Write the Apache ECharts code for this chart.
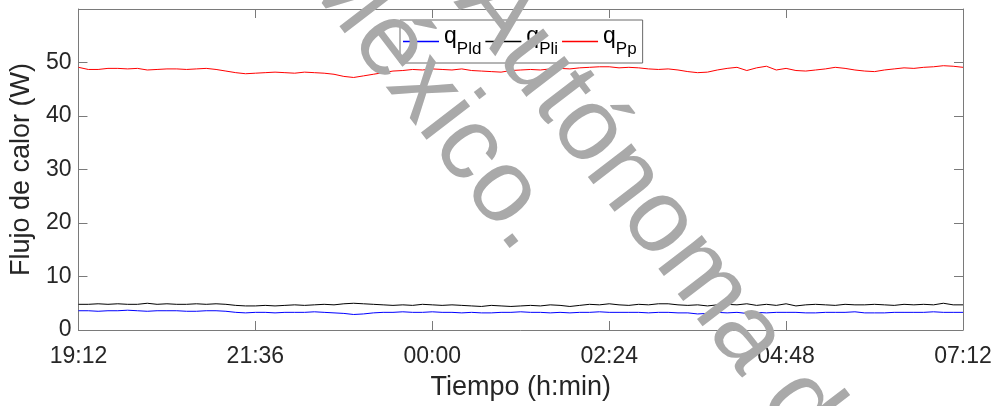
<!DOCTYPE html>
<html>
<head>
<meta charset="utf-8">
<script src="https://cdn.jsdelivr.net/npm/echarts@6/dist/echarts.min.js"></script>
<style>
  html, body { margin: 0; padding: 0; background: #fff; }
  #chart { width: 995px; height: 406px; }
</style>
</head>
<body>
<div id="chart"></div>
<script>
// Sample times, minutes elapsed since 19:12
const timeMin = [
  0, 8, 16, 24, 32, 40, 48, 56, 64, 72,
  80, 88, 96, 104, 112, 120, 128, 136, 144, 152,
  160, 168, 176, 184, 192, 200, 208, 216, 224, 232,
  240, 248, 256, 264, 272, 280, 288, 296, 304, 312,
  320, 328, 336, 344, 352, 360, 368, 376, 384, 392,
  400, 408, 416, 424, 432, 440, 448, 456, 464, 472,
  480, 488, 496, 504, 512, 520, 528, 536, 544, 552,
  560, 568, 576, 584, 592, 600, 608, 616, 624, 632,
  640, 648, 656, 664, 672, 680, 688, 696, 704, 712,
  720
];

// Heat flow q_Pld (W)
const qPld = [
  3.6, 3.6, 3.5, 3.6, 3.6, 3.7, 3.6, 3.5, 3.6, 3.6,
  3.6, 3.5, 3.5, 3.6, 3.6, 3.5, 3.3, 3.2, 3.3, 3.3,
  3.2, 3.3, 3.3, 3.3, 3.4, 3.3, 3.2, 3.1, 2.9, 3.0,
  3.2, 3.3, 3.3, 3.4, 3.3, 3.3, 3.4, 3.3, 3.3, 3.2,
  3.3, 3.2, 3.2, 3.3, 3.3, 3.4, 3.3, 3.3, 3.2, 3.3,
  3.2, 3.3, 3.3, 3.4, 3.3, 3.3, 3.3, 3.3, 3.2, 3.3,
  3.3, 3.2, 3.2, 3.0, 3.1, 3.3, 3.2, 3.3, 3.1, 3.3,
  3.2, 3.3, 3.3, 3.3, 3.2, 3.2, 3.3, 3.3, 3.3, 3.4,
  3.2, 3.2, 3.2, 3.3, 3.3, 3.3, 3.3, 3.4, 3.3, 3.3,
  3.3
];

// Heat flow q_Pli (W)
const qPli = [
  4.8, 4.8, 4.9, 4.8, 4.9, 4.8, 4.8, 5.0, 4.8, 4.9,
  4.8, 4.8, 4.9, 4.8, 4.9, 4.8, 4.6, 4.5, 4.5, 4.6,
  4.5, 4.6, 4.7, 4.6, 4.7, 4.8, 4.7, 4.9, 5.0, 4.9,
  4.8, 4.7, 4.6, 4.7, 4.6, 4.8, 4.7, 4.6, 4.7, 4.6,
  4.5, 4.4, 4.6, 4.5, 4.4, 4.5, 4.6, 4.5, 4.7, 4.6,
  4.4, 4.6, 4.8, 4.7, 4.9, 4.7, 4.6, 4.8, 4.7, 4.9,
  4.9, 4.7, 4.6, 4.7, 4.5, 4.7, 4.8, 4.7, 4.9, 4.6,
  4.8, 4.6, 4.9, 4.5, 4.7, 4.8, 4.7, 4.6, 4.8, 4.7,
  4.7, 4.8, 4.7, 4.6, 4.8, 4.7, 4.8, 4.7, 5.0, 4.7,
  4.7
];

// Heat flow q_Pp (W)
const qPp = [
  49.1, 48.7, 48.7, 48.9, 48.9, 48.8, 48.9, 48.6, 48.7, 48.8,
  48.8, 48.7, 48.8, 48.9, 48.7, 48.4, 48.1, 47.9, 48.0, 48.1,
  48.2, 48.1, 48.0, 48.2, 48.1, 48.0, 47.8, 47.4, 47.2, 47.5,
  47.8, 48.1, 48.4, 48.5, 48.7, 48.6, 48.8, 48.7, 48.6, 48.8,
  48.5, 48.4, 48.3, 48.2, 48.5, 48.6, 48.7, 48.6, 48.8, 48.9,
  48.8, 49.0, 49.1, 49.2, 49.2, 49.0, 49.1, 49.0, 48.8, 48.7,
  48.8, 48.6, 48.3, 48.1, 48.2, 48.6, 48.9, 49.1, 48.5, 49.0,
  49.3, 48.6, 48.9, 48.5, 48.4, 48.6, 48.8, 49.1, 48.9, 48.6,
  48.4, 48.3, 48.6, 48.8, 49.0, 48.9, 49.1, 49.2, 49.4, 49.3,
  49.1
];

// Clock labels for the x ticks (every 144 min)
const timeTicks = ['19:12', '21:36', '00:00', '02:24', '04:48', '07:12'];
const seriesNames = ['q_Pld', 'q_Pli', 'q_Pp'];
const seriesColors = ['#0000ff', '#000000', '#ff0000'];

const FONT = '"Liberation Sans", Arial, Helvetica, sans-serif';
const AXIS_GRAY = '#7a7a7a';
const TEXT = '#262626';

function pairs(values) {
  return values.map((v, i) => [timeMin[i], v]);
}

const chart = echarts.init(document.getElementById('chart'), null, { renderer: 'canvas' });

// Shared look of the four box edges: thin gray line, ticks pointing inwards
function boxAxis(extra) {
  return Object.assign({
    axisLine: { show: true, onZero: false, lineStyle: { color: AXIS_GRAY, width: 1 } },
    axisTick: { show: true, inside: true, length: 9, lineStyle: { color: AXIS_GRAY, width: 1 } },
    splitLine: { show: false }
  }, extra);
}

const option = {
  backgroundColor: '#ffffff',
  animation: false,
  textStyle: { fontFamily: FONT },
  grid: { left: 78, right: 32, top: 9, bottom: 73 },
  legend: {
    left: 400,
    top: 20,
    orient: 'horizontal',
    icon: 'rect',
    itemWidth: 36,
    itemHeight: 1.5,
    itemGap: 4,
    padding: [5, 6, 5, 3],
    borderColor: '#6a6a6a',
    borderWidth: 1,
    backgroundColor: '#ffffff',
    data: seriesNames,
    formatter: name => '{q|q}{s|' + name.split('_')[1] + '}',
    textStyle: {
      color: '#000',
      fontFamily: FONT,
      rich: {
        q: { fontSize: 23, lineHeight: 22, padding: [0, 0, 10, 0], fontFamily: FONT, color: '#000' },
        s: { fontSize: 17, lineHeight: 16, padding: [16, 0, 0, 0], fontFamily: FONT, color: '#000' }
      }
    }
  },
  xAxis: [
    boxAxis({
      type: 'value',
      position: 'bottom',
      min: 0,
      max: 720,
      interval: 144,
      name: 'Tiempo (h:min)',
      nameLocation: 'middle',
      nameGap: 44,
      nameTextStyle: { fontSize: 27, color: TEXT, fontFamily: FONT },
      axisLabel: {
        show: true,
        margin: 15,
        fontSize: 23,
        color: TEXT,
        fontFamily: FONT,
        formatter: v => timeTicks[Math.round(v / 144)] || ''
      }
    }),
    boxAxis({
      type: 'value',
      position: 'top',
      min: 0,
      max: 720,
      interval: 144,
      axisLabel: { show: false }
    })
  ],
  yAxis: [
    boxAxis({
      type: 'value',
      position: 'left',
      min: 0,
      max: 60,
      interval: 10,
      name: 'Flujo de calor (W)',
      nameLocation: 'middle',
      nameGap: 43,
      nameTextStyle: { fontSize: 27, color: TEXT, fontFamily: FONT },
      axisLabel: {
        show: true,
        margin: 7,
        fontSize: 23,
        color: TEXT,
        fontFamily: FONT,
        formatter: v => (v >= 60 ? '' : String(v))
      }
    }),
    boxAxis({
      type: 'value',
      position: 'right',
      min: 0,
      max: 60,
      interval: 10,
      axisLabel: { show: false }
    })
  ],
  series: [qPld, qPli, qPp].map((vals, i) => ({
    name: seriesNames[i],
    type: 'line',
    xAxisIndex: 0,
    yAxisIndex: 0,
    data: pairs(vals),
    showSymbol: false,
    symbol: 'none',
    lineStyle: { color: seriesColors[i], width: 1 },
    itemStyle: { color: seriesColors[i] }
  })),
  graphic: [
    {
      type: 'text',
      z: 100,
      x: 476,
      y: -16,
      rotation: -52.5 * Math.PI / 180,
      silent: true,
      style: {
        text: 'Autónoma de',
        fill: '#a9a9a9',
        fontSize: 104,
        fontFamily: FONT,
        align: 'left',
        verticalAlign: 'middle'
      }
    },
    {
      type: 'text',
      z: 100,
      x: 538,
      y: 238,
      rotation: -52.5 * Math.PI / 180,
      silent: true,
      style: {
        text: 'México.',
        fill: '#a9a9a9',
        fontSize: 104,
        fontFamily: FONT,
        align: 'right',
        verticalAlign: 'middle'
      }
    }
  ]
};

chart.setOption(option);
</script>
</body>
</html>
